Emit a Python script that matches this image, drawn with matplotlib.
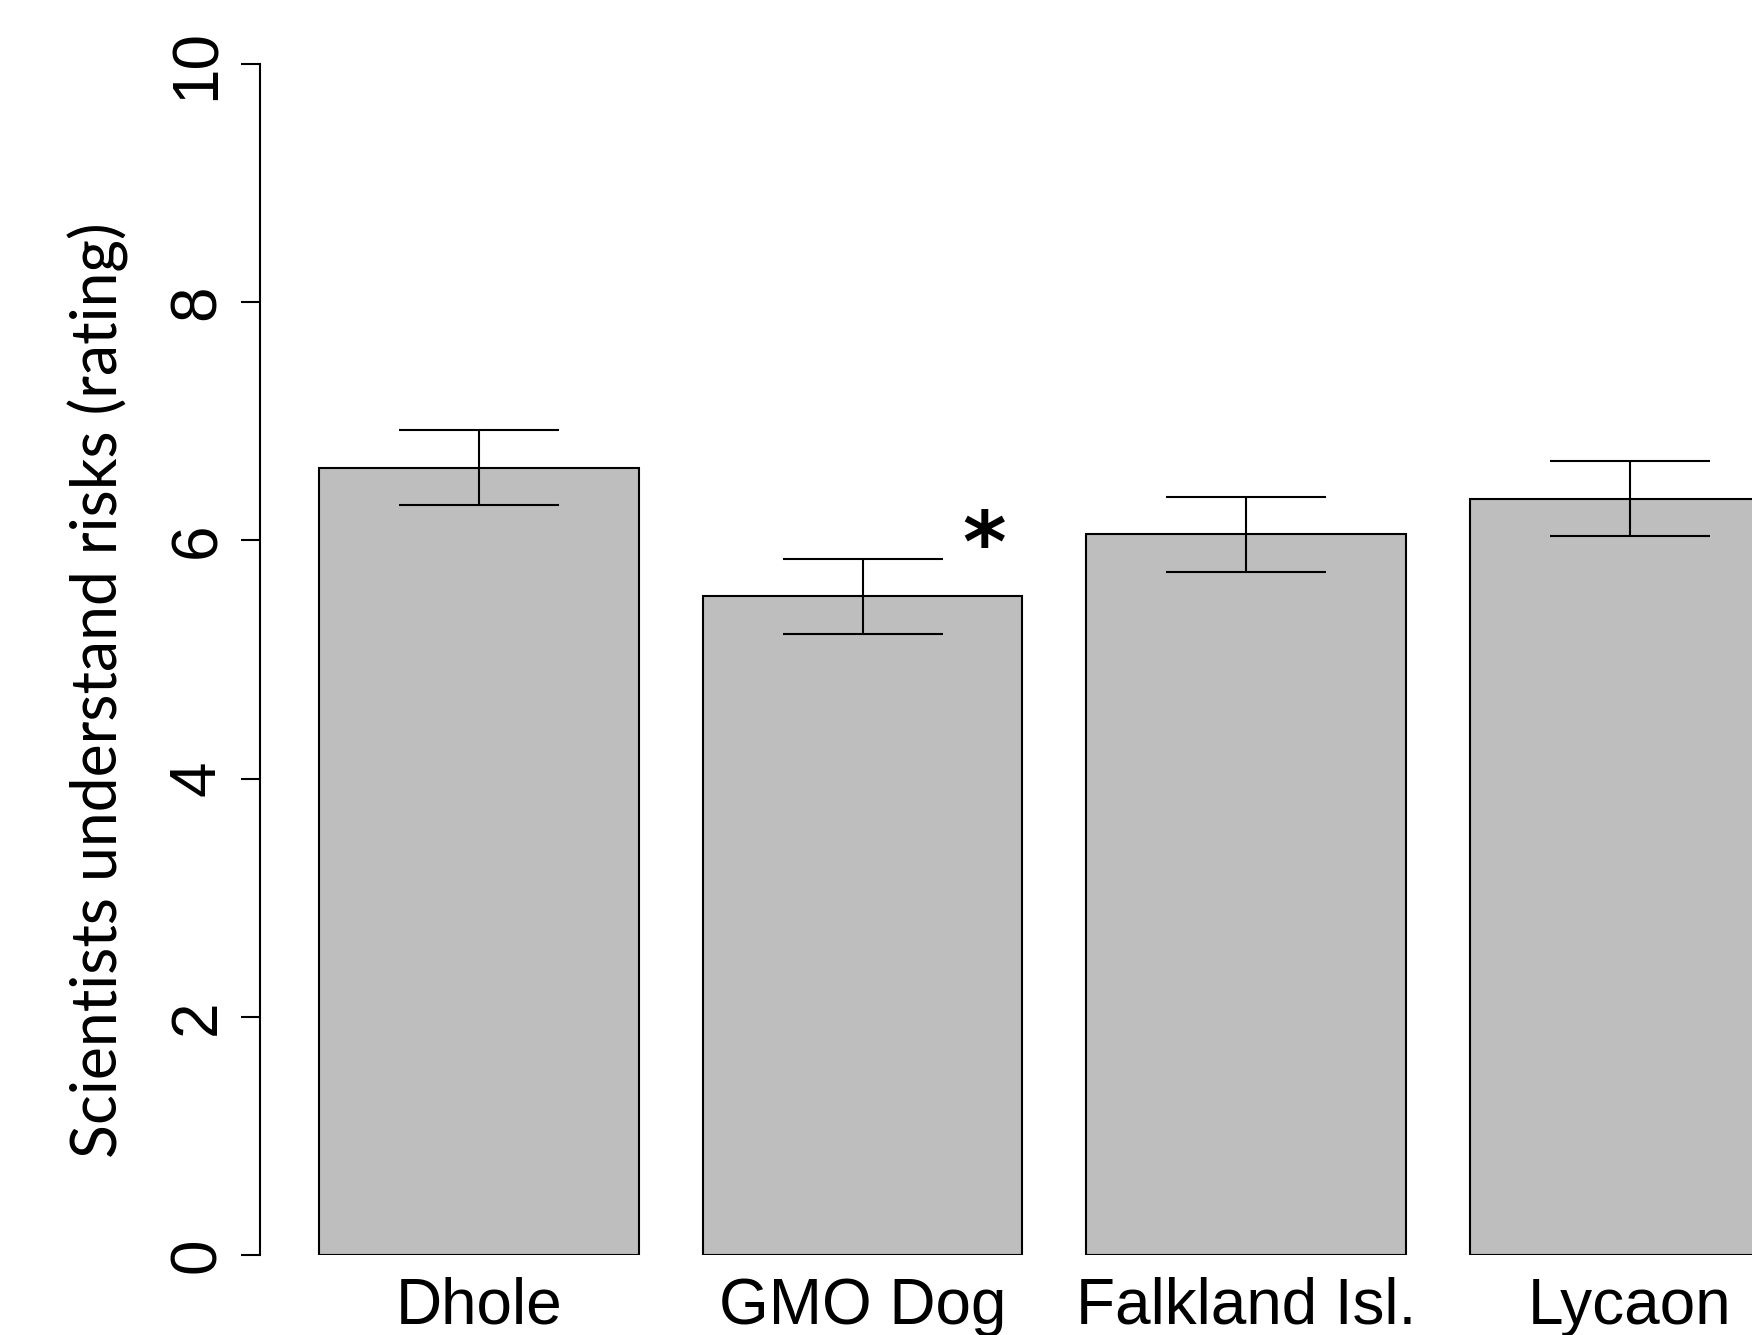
import matplotlib
matplotlib.use("Agg")
import matplotlib.pyplot as plt
from matplotlib.transforms import blended_transform_factory

categories = ["Dhole", "GMO Dog", "Falkland Isl.", "Lycaon"]
means = [6.61, 5.53, 6.05, 6.35]
ses = [0.313, 0.315, 0.315, 0.313]
yticks = [0, 2, 4, 6, 8, 10]
ylabel = "Scientists understand risks (rating)"
star_text = "*"

W, H = 1752, 1335
fig = plt.figure(figsize=(W / 100, H / 100), dpi=100)

px_per_unit = 383.7 / 1.2
ax_left_px, ax_right_px = 260, 1752
ax_top_px, ax_bot_px = 64, 1255
ax = fig.add_axes([ax_left_px / W, (H - ax_bot_px) / H,
                   (ax_right_px - ax_left_px) / W, (ax_bot_px - ax_top_px) / H])
x0 = 0.2 - (319 - ax_left_px) / px_per_unit
ax.set_xlim(x0, x0 + (ax_right_px - ax_left_px) / px_per_unit)
ax.set_ylim(0, 10)

xs = [0.7 + 1.2 * i for i in range(len(categories))]
ax.bar(xs, means, width=1.0, color="#BEBEBE", edgecolor="black", linewidth=1.5, zorder=2)
ax.errorbar(xs, means, yerr=ses, fmt="none", ecolor="black", elinewidth=1.5,
            capsize=57.6, capthick=1.5, zorder=3)

for s in ["top", "right", "bottom"]:
    ax.spines[s].set_visible(False)
ax.spines["left"].set_linewidth(1.5)
ax.set_xticks([])
ax.set_yticks(yticks)
ax.set_yticklabels([])
ax.tick_params(axis="y", length=13.7, width=1.5, direction="out")

tr_y = blended_transform_factory(fig.transFigure, ax.transData)
for t in yticks:
    ax.text(215 / W, t, str(t), transform=tr_y, rotation=90, rotation_mode="anchor",
            ha="center", va="baseline", fontsize=46, family="Liberation Sans")

tr_x = blended_transform_factory(ax.transData, fig.transFigure)
for x, c in zip(xs, categories):
    ax.text(x, (H - 1324) / H, c, transform=tr_x, ha="center", va="baseline",
            fontsize=46, family="Liberation Sans", clip_on=False)

fig.text(118 / W, (H - 690) / H, ylabel, rotation=90, rotation_mode="anchor",
         ha="center", va="baseline", fontsize=45, family="Lato")

ax.text(xs[1] + 0.38, 5.94, star_text, ha="center", va="center", fontsize=60,
        family="DejaVu Sans", fontweight="bold")

fig.savefig("out.png", dpi=100)
